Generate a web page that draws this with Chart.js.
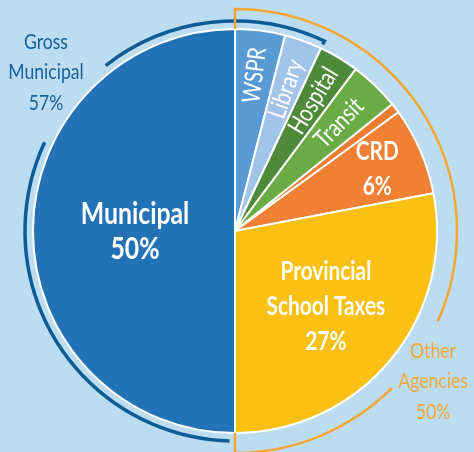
<!DOCTYPE html>
<html>
<head>
<meta charset="utf-8">
<script src="https://cdn.jsdelivr.net/npm/chart.js@4.4.0/dist/chart.umd.min.js"></script>
<style>
  html, body { margin: 0; padding: 0; background: #bcdcf2; }
  #chartWrap { width: 474px; height: 452px; position: relative; }
</style>
</head>
<body>
<div id="chartWrap"><canvas id="graphicFirst"></canvas></div>
<script>
// Tax breakdown pie
// Librerias: Chart.js

//-----DATA
const sliceNames  = ['WSPR', 'Library', 'Hospital', 'Transit', 'Other', 'CRD', 'Provincial School Taxes', 'Municipal'];
const sliceValues = [4, 3, 3.2, 4, 0.8, 7, 28, 50];
const sliceLabels = [['WSPR'], ['Library'], ['Hospital'], ['Transit'], [], ['CRD', '6%'], ['Provincial', 'School Taxes', '27%'], ['Municipal', '50%']];
const grossLabel  = ['Gross', 'Municipal', '57%'];
const grossShare  = 57;   // Municipal + WSPR + Library
const otherLabel  = ['Other', 'Agencies', '50%'];
const otherShare  = 50;

//-----STYLES
const sliceColors = ['#5b9bd5', '#a2c4e9', '#4f8a3b', '#6aab46', '#ee7d31', '#ef8034', '#fbc014', '#2372b6'];
const labelRadius = [157, 151, 152, 150, 0, 155, 118, 100];
const labelRotate = [true, true, true, true, false, false, false, false];
const FONT = 'Lato, "Open Sans", sans-serif';
const SQUEEZE = 0.8;   // fake condensed face

function drawLines(ctx, lines, x, y, lh, font, color, rot){
  ctx.save();
  ctx.translate(x, y);
  if (rot) ctx.rotate(rot);
  ctx.scale(SQUEEZE, 1);
  ctx.font = font;
  ctx.fillStyle = color;
  ctx.textAlign = 'center';
  ctx.textBaseline = 'middle';
  let top = -(lines.length - 1) * lh / 2;
  for (let i = 0; i < lines.length; i++){
    ctx.fillText(lines[i], 0, top + i * lh);
  }
  ctx.restore();
}

const decoPlugin = {
  id: 'deco',
  afterDatasetsDraw(chart){
    const ctx = chart.ctx;
    const arcs = chart.getDatasetMeta(0).data;
    const cx = arcs[0].x, cy = arcs[0].y, r = arcs[0].outerRadius;
    const rad = d => (d - 90) * Math.PI / 180;   // degrees clockwise from top -> canvas

    //--gross municipal arc (dark blue)
    let gStart = 180 + 1.5;
    let gEnd = 180 + grossShare * 3.6;
    let rg = r + 8;
    ctx.save();
    ctx.strokeStyle = '#0d5d94';
    ctx.lineWidth = 3.5;
    ctx.lineCap = 'butt';
    ctx.beginPath(); ctx.arc(cx, cy, rg, rad(gStart), rad(295)); ctx.stroke();
    ctx.beginPath(); ctx.arc(cx, cy, rg, rad(322), rad(gEnd)); 
    ctx.lineTo(cx + Math.cos(rad(gEnd)) * (rg - 4), cy + Math.sin(rad(gEnd)) * (rg - 4));
    ctx.stroke();

    //--other agencies arc (orange)
    let ro = r + 20;
    ctx.strokeStyle = '#f4a633';
    ctx.lineWidth = 2.5;
    ctx.beginPath();
    ctx.moveTo(cx + Math.cos(rad(0)) * r, cy + Math.sin(rad(0)) * r);
    ctx.arc(cx, cy, ro, rad(0), rad(114));
    ctx.stroke();
    ctx.beginPath();
    ctx.arc(cx, cy, ro, rad(135), rad(otherShare * 3.6));
    ctx.lineTo(cx + Math.cos(rad(otherShare * 3.6)) * r, cy + Math.sin(rad(otherShare * 3.6)) * r);
    ctx.stroke();
    ctx.restore();

    //--slice labels
    for (let i = 0; i < arcs.length; i++){
      if (!sliceLabels[i].length) continue;
      let a = arcs[i];
      let mid = (a.startAngle + a.endAngle) / 2;
      let x = cx + Math.cos(mid) * labelRadius[i];
      let y = cy + Math.sin(mid) * labelRadius[i];
      if (labelRotate[i]){
        drawLines(ctx, sliceLabels[i], x, y, 30, '25px ' + FONT, '#ffffff', mid);
      } else if (i === 7){
        drawLines(ctx, sliceLabels[i], x, y, 35, 'bold 31px ' + FONT, '#ffffff');
      } else {
        drawLines(ctx, sliceLabels[i], x, y, 35, 'bold 26px ' + FONT, '#ffffff');
      }
    }

    //--outer labels
    drawLines(ctx, grossLabel, 46, 72, 30.5, '22px ' + FONT, '#18609a');
    drawLines(ctx, otherLabel, 433, 381, 30.5, '22px ' + FONT, '#f2a73b');
  }
};

let chart1;
function drawFirstElement(){
  var ctx = document.getElementById('graphicFirst').getContext('2d');
  if (chart1) {
    chart1.destroy();
  }
  chart1 = new Chart(ctx, {
    type: 'pie',
    data: {
      labels: sliceNames,
      datasets: [{
        data: sliceValues,
        backgroundColor: sliceColors,
        borderColor: '#ffffff',
        borderWidth: 2
      }]
    },
    plugins: [decoPlugin],
    options: {
      responsive: true,
      maintainAspectRatio: false,
      animation: false,
      radius: 202,
      layout: { padding: { left: 33, right: 37, top: 29, bottom: 19 } },
      plugins: {
        legend: { display: false },
        tooltip: { enabled: false }
      }
    }
  });
}

drawFirstElement();
</script>
</body>
</html>
